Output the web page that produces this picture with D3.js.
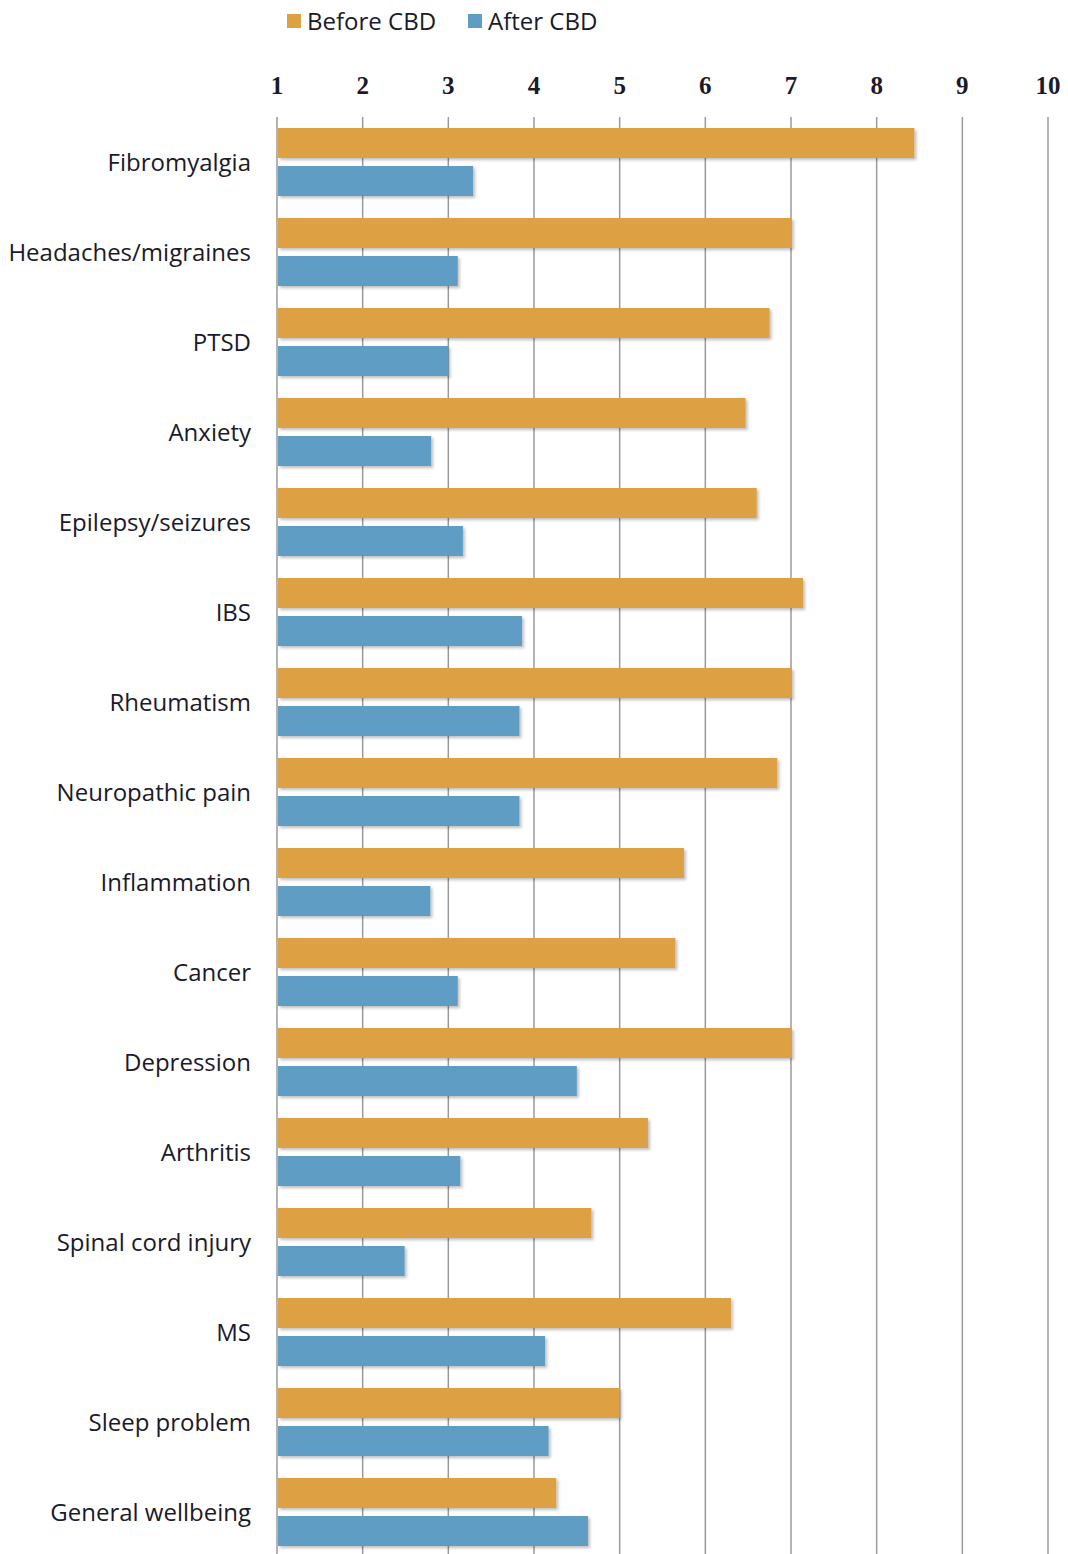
<!DOCTYPE html>
<html><head><meta charset="utf-8">
<script src="https://cdn.jsdelivr.net/npm/d3@7"></script>
<style>body{margin:0;background:#fff}svg{display:block}</style>
</head><body>
<script>
const categories = ["Fibromyalgia","Headaches/migraines","PTSD","Anxiety","Epilepsy/seizures","IBS","Rheumatism","Neuropathic pain","Inflammation","Cancer","Depression","Arthritis","Spinal cord injury","MS","Sleep problem","General wellbeing"];
const beforeCBD = [8.44,7.01,6.75,6.47,6.6,7.14,7.01,6.84,5.75,5.65,7.01,5.33,4.67,6.3,5.0,4.26];
const afterCBD  = [3.29,3.11,3.0,2.8,3.17,3.86,3.83,3.83,2.79,3.11,4.5,3.14,2.49,4.13,4.17,4.63];
const ticks = [1,2,3,4,5,6,7,8,9,10];
const seriesNames = ["Before CBD","After CBD"];
const colors = ["#DDA043","#5F9DC4"];

const W=1068,H=1554;
const svg=d3.select("body").append("svg").attr("width",W).attr("height",H);
const defs=svg.append("defs");
const f=defs.append("filter").attr("id","sh").attr("x","-5%").attr("y","-20%").attr("width","110%").attr("height","160%");
f.append("feDropShadow").attr("dx",2).attr("dy",2).attr("stdDeviation",1.5).attr("flood-color","#000").attr("flood-opacity",0.25);

const x=d3.scaleLinear().domain([1,10]).range([277,1048]);
const y=d3.scaleBand().domain(categories).range([117,1557]).paddingInner(0).paddingOuter(0);
const bh=30, gap=8, off=11;

// gridlines
svg.append("g").selectAll("line").data(ticks).join("line")
  .attr("x1",d=>x(d)).attr("x2",d=>x(d)).attr("y1",117).attr("y2",H)
  .attr("stroke","#9a9a9a").attr("stroke-width",1.5);

// tick labels
svg.append("g").selectAll("text").data(ticks).join("text")
  .attr("x",d=>x(d)).attr("y",94).attr("text-anchor","middle")
  .attr("font-family","'Liberation Serif','DejaVu Serif',serif").attr("font-weight","bold")
  .attr("font-size",25).attr("fill","#1a1a2a").text(d=>d);

const data=categories.map((c,i)=>({c,b:beforeCBD[i],a:afterCBD[i]}));
const g=svg.append("g");
g.selectAll("rect.b").data(data).join("rect").attr("class","b")
  .attr("x",x(1)+1).attr("y",d=>y(d.c)+off).attr("height",bh)
  .attr("width",d=>x(d.b)-x(1)-1).attr("fill",colors[0]).attr("filter","url(#sh)");
g.selectAll("rect.a").data(data).join("rect").attr("class","a")
  .attr("x",x(1)+1).attr("y",d=>y(d.c)+off+bh+gap).attr("height",bh)
  .attr("width",d=>x(d.a)-x(1)-1).attr("fill",colors[1]).attr("filter","url(#sh)");

// category labels
svg.append("g").selectAll("text").data(categories).join("text")
  .attr("x",251).attr("y",c=>y(c)+off+bh+13).attr("text-anchor","end")
  .attr("font-family","'Open Sans',sans-serif").attr("font-size",24).attr("fill","#1a1a2a").text(c=>c);

// legend
const lg=svg.append("g");
const lx=[287,468];
seriesNames.forEach((n,i)=>{
  lg.append("rect").attr("x",lx[i]).attr("y",14).attr("width",14).attr("height",14).attr("fill",colors[i]);
  lg.append("text").attr("x",lx[i]+20).attr("y",30).attr("font-family","'Open Sans',sans-serif")
    .attr("font-size",24).attr("fill","#1a1a2a").text(n);
});
</script>
</body></html>
